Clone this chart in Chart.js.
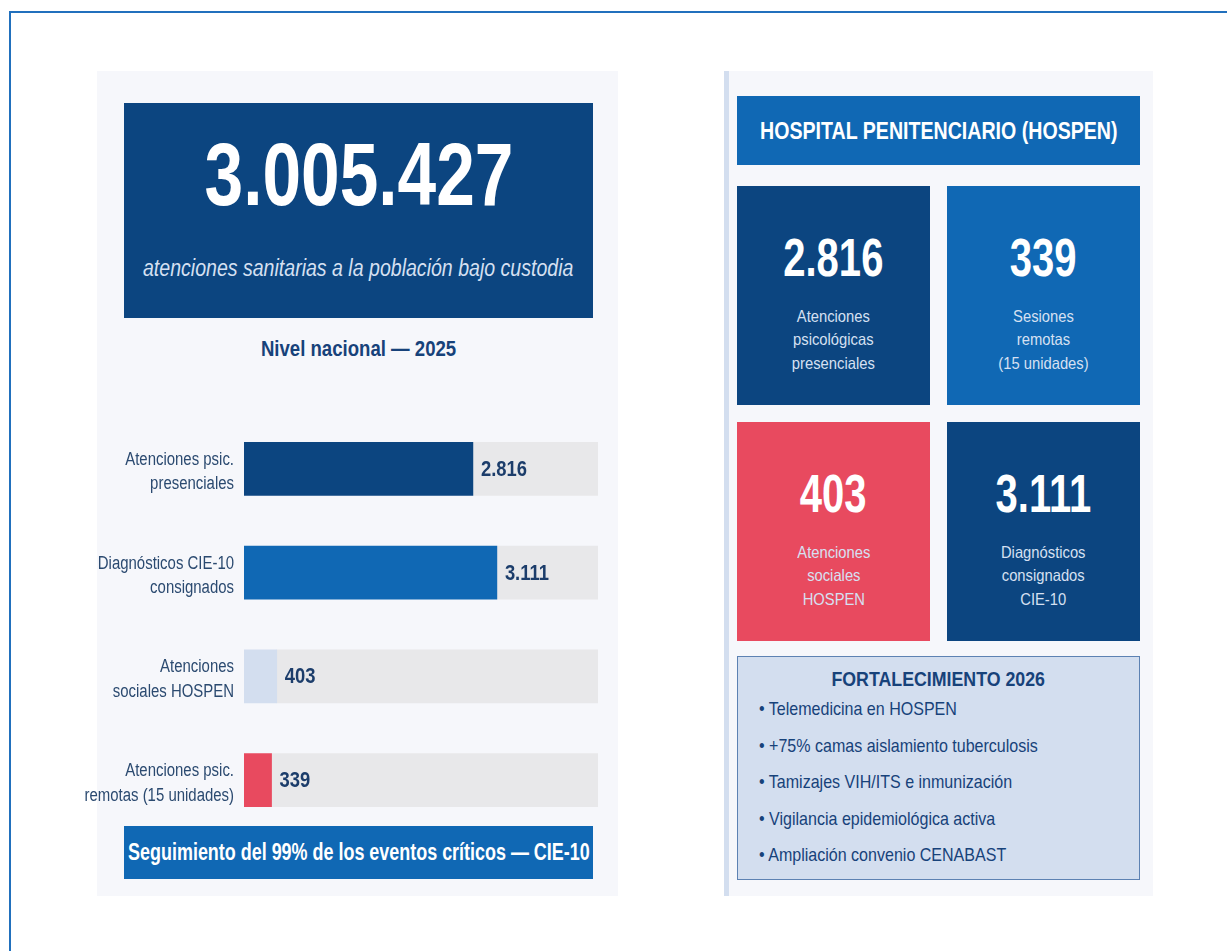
<!DOCTYPE html>
<html lang="es">
<head>
<meta charset="utf-8">
<title>Atenciones sanitarias 2025</title>
<script src="https://cdn.jsdelivr.net/npm/chart.js@4"></script>
<style>
  body { margin: 0; background: #fff; font-family: "Liberation Sans", Arial, sans-serif; overflow: hidden; }
  #page { position: relative; width: 1227px; height: 951px; overflow: hidden; }
  .frame { position: absolute; left: 9px; top: 11px; width: 1400px; height: 1100px; border: 2px solid #2170bd; }
  .panel { position: absolute; background: #f6f7fb; }
  .abs { position: absolute; }
  /* texto estrecho: la fuente condensada no está instalada */
  .sq { display: inline-block; white-space: nowrap; transform: scaleX(var(--sx)); transform-origin: center; }
  .center { display: flex; align-items: center; justify-content: center; color: #fff; font-weight: bold; }
  .tile { position: absolute; width: 193px; height: 219px; color: #fff; text-align: center; }
  .tile .num { position: absolute; left: 0; right: 0; top: 45px; font-size: 53px; font-weight: bold; line-height: 1; }
  .tile .lbl { position: absolute; left: 0; right: 0; top: 119px; font-size: 16.5px; line-height: 23.3px; color: #d6e0f2; }
  #chartBox { position: absolute; left: 60px; top: 417px; }
  ul { list-style: none; margin: 0; padding: 0; }
  li { font-size: 18.5px; line-height: 36.6px; color: #17427a; }
  li .sq { transform-origin: left; }
</style>
</head>
<body>
<div id="page">
  <div class="frame"></div>

  <!-- panel izquierdo -->
  <div class="panel" style="left:97px; top:71px; width:521px; height:825px;"></div>
  <div class="abs" style="left:124px; top:103px; width:469px; height:215px; background:#0c4580;"></div>
  <div class="abs" style="left:124px; top:130px; width:469px; text-align:center; color:#fff; font-weight:bold; font-size:89px; line-height:1;"><span class="sq" style="--sx:0.78" id="bigNum"></span></div>
  <div class="abs center" style="left:124px; top:255px; width:469px; height:26px; color:#d6e0f2; font-weight:normal; font-style:italic; font-size:23px; line-height:26px;"><span class="sq" style="--sx:0.85">atenciones sanitarias a la población bajo custodia</span></div>
  <div class="abs" style="left:124px; top:336px; width:469px; text-align:center; color:#17427a; font-weight:bold; font-size:22px; line-height:26px;"><span class="sq" style="--sx:0.845">Nivel nacional — 2025</span></div>

  <div id="chartBox"><canvas id="barChart" width="538" height="415"></canvas></div>

  <div class="abs center" style="left:124px; top:826px; width:469px; height:53px; background:#1068b4; font-size:23px;"><span class="sq" style="--sx:0.78">Seguimiento del 99% de los eventos críticos — CIE-10</span></div>

  <!-- panel derecho -->
  <div class="panel" style="left:724px; top:71px; width:429px; height:825px; border-left:5px solid #d3deef; box-sizing:border-box;"></div>
  <div class="abs center" style="left:737px; top:96px; width:403px; height:69px; background:#1068b4; font-size:23px; padding-top:2px; box-sizing:border-box;"><span class="sq" style="--sx:0.852">HOSPITAL PENITENCIARIO (HOSPEN)</span></div>
  <div id="tiles"></div>

  <div class="abs" style="left:737px; top:656px; width:403px; height:224px; background:#d3deef; border:1px solid #5d82b3; box-sizing:border-box;">
    <div style="position:absolute; left:0; right:0; top:9px; text-align:center; color:#17427a; font-weight:bold; font-size:21px; line-height:26px;"><span class="sq" style="--sx:0.846">FORTALECIMIENTO 2026</span></div>
    <ul id="plan" style="position:absolute; left:21px; top:34px;"></ul>
  </div>
</div>

<script>
const categories = [
  ['Atenciones psic.', 'presenciales'],
  ['Diagnósticos CIE-10', 'consignados'],
  ['Atenciones', 'sociales HOSPEN'],
  ['Atenciones psic.', 'remotas (15 unidades)']
];
const values = [2816, 3111, 403, 339];
const axisMax = 4355;

const totalAtenciones = 3005427;

const tileValues = [2816, 339, 403, 3111];
const tileLabels = [
  ['Atenciones', 'psicológicas', 'presenciales'],
  ['Sesiones', 'remotas', '(15 unidades)'],
  ['Atenciones', 'sociales', 'HOSPEN'],
  ['Diagnósticos', 'consignados', 'CIE-10']
];

const planItems = [
  'Telemedicina en HOSPEN',
  '+75% camas aislamiento tuberculosis',
  'Tamizajes VIH/ITS e inmunización',
  'Vigilancia epidemiológica activa',
  'Ampliación convenio CENABAST'
];

const FONT = '"Liberation Sans", Arial, sans-serif';
const barColors = ['#0c4580', '#1068b4', '#d3deef', '#e84a5f'];
const trackColor = '#e8e8ea';

function miles(n) {
  return String(n).replace(/\B(?=(\d{3})+(?!\d))/g, '.');
}

document.getElementById('bigNum').innerText = miles(totalAtenciones);

// tarjetas HOSPEN
const tileBg = ['#0c4580', '#1068b4', '#e84a5f', '#0c4580'];
const tilePos = [[737, 186], [947, 186], [737, 422], [947, 422]];
const tiles = document.getElementById('tiles');
tileValues.forEach((v, i) => {
  const t = document.createElement('div');
  t.className = 'tile';
  t.style.left = tilePos[i][0] + 'px';
  t.style.top = tilePos[i][1] + 'px';
  t.style.background = tileBg[i];
  t.innerHTML = '<div class="num"><span class="sq" style="--sx:0.755">' + miles(v) + '</span></div>' +
    '<div class="lbl"><span class="sq" style="--sx:0.895">' + tileLabels[i].join('<br>') + '</span></div>';
  tiles.appendChild(t);
});

const plan = document.getElementById('plan');
planItems.forEach(txt => {
  const li = document.createElement('li');
  li.innerHTML = '<span class="sq" style="--sx:0.867"></span>';
  li.firstChild.textContent = '• ' + txt;
  plan.appendChild(li);
});

// etiquetas de categoría (estrechas) usando la posición de la escala y
const categoryLabels = {
  id: 'categoryLabels',
  afterDraw(chart) {
    const ctx = chart.ctx;
    const yScale = chart.scales.y;
    const left = chart.chartArea.left - 10;
    ctx.save();
    ctx.font = '18px ' + FONT;
    ctx.fillStyle = '#2b4a70';
    ctx.textAlign = 'right';
    ctx.textBaseline = 'alphabetic';
    yScale.ticks.forEach((tick, i) => {
      const y = yScale.getPixelForTick(i);
      const lines = chart.data.labels[i];
      ctx.save();
      ctx.translate(left, y);
      ctx.scale(0.83, 1);
      ctx.fillText(lines[0], 0, -4);
      ctx.fillText(lines[1], 0, 20.5);
      ctx.restore();
    });
    ctx.restore();
  }
};

// etiquetas de valor al final de cada barra
const valueLabels = {
  id: 'valueLabels',
  afterDatasetsDraw(chart) {
    const ctx = chart.ctx;
    const meta = chart.getDatasetMeta(0);
    ctx.save();
    ctx.font = 'bold 22px ' + FONT;
    ctx.fillStyle = '#1c3d6b';
    ctx.textBaseline = 'middle';
    ctx.textAlign = 'left';
    meta.data.forEach((bar, i) => {
      ctx.save();
      ctx.translate(bar.x + 8, bar.y + 1);
      ctx.scale(0.836, 1);
      ctx.fillText(miles(values[i]), 0, 0);
      ctx.restore();
    });
    ctx.restore();
  }
};

const ctx = document.getElementById('barChart');

new Chart(ctx, {
  type: 'bar',
  data: {
    labels: categories,
    datasets: [{
      data: values,
      backgroundColor: barColors,
      barThickness: 53
    }, {
      data: values.map(v => axisMax - v),
      backgroundColor: trackColor,
      barThickness: 53
    }]
  },
  options: {
    indexAxis: 'y',
    responsive: false,
    animation: false,
    layout: { padding: 0 },
    plugins: {
      legend: { display: false },
      tooltip: { enabled: false }
    },
    scales: {
      x: {
        stacked: true,
        min: 0,
        max: axisMax,
        display: false
      },
      y: {
        stacked: true,
        grid: { display: false, drawTicks: false },
        border: { display: false },
        ticks: { display: false },
        afterFit(scale) {
          scale.width = 184;
        }
      }
    }
  },
  plugins: [valueLabels, categoryLabels]
});
</script>
</body>
</html>
